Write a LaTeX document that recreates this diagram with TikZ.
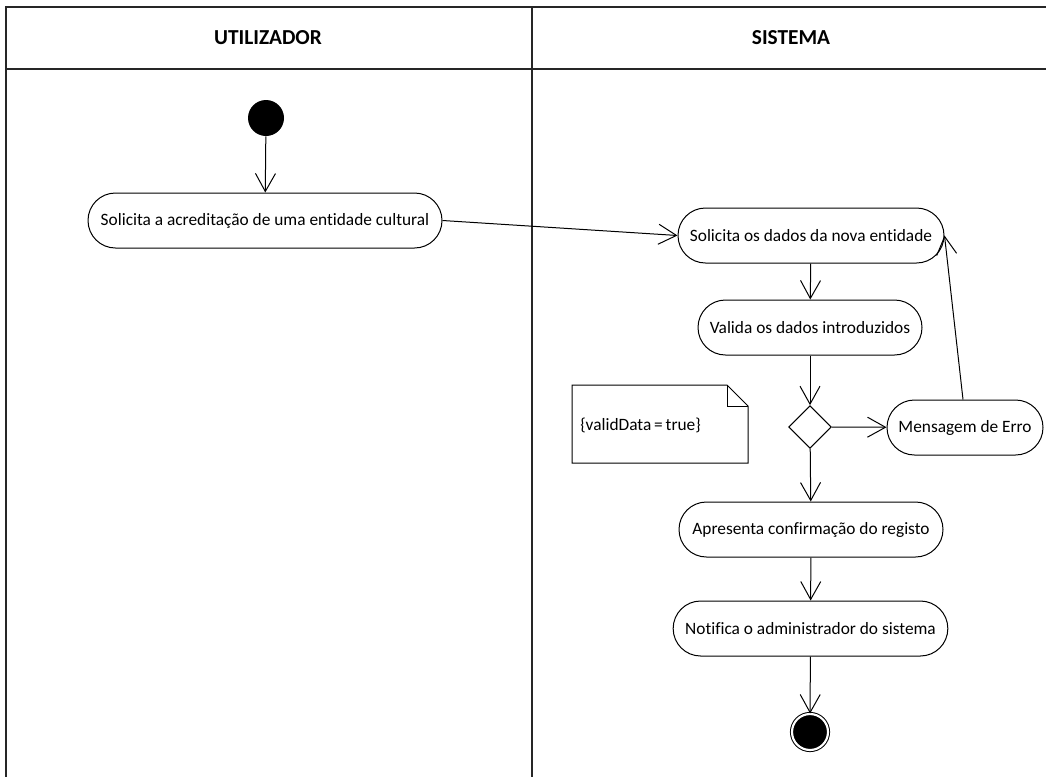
\documentclass[tikz,border=0pt]{standalone}
\usepackage{fontspec}
\setmainfont{Carlito}[Ligatures=NoCommon]
\usetikzlibrary{arrows.meta,shapes.geometric}
\begin{document}
\begin{tikzpicture}[x=0.75pt,y=-0.75pt,
  font=\fontsize{13pt}{15pt}\selectfont,
  lane/.style={line width=1.5pt,draw=black!85},
  action/.style={draw,line width=0.75pt,rounded corners=20.6pt,minimum height=41.25pt,inner sep=0pt},
  flow/.style={line width=0.75pt,-{Straight Barb[length=13.5pt,width=15pt,line width=0.75pt]}},
  decision/.style={draw,line width=0.75pt,diamond,minimum width=32pt,minimum height=32pt,inner sep=0pt},
  startnode/.style={circle,fill=black,minimum size=27pt,inner sep=0pt},
  endnode/.style={circle,draw,line width=0.75pt,fill=black,double=white,double distance=1.6pt,minimum size=27pt,inner sep=0pt},
  header/.style={font=\fontsize{16pt}{18pt}\selectfont\bfseries}]
\useasboundingbox (0,0) rectangle (1046,776);
\begin{scope}
\clip (0,0) rectangle (1046,776);
% swimlane frame
\draw[lane] (6,800) -- (6,7) -- (1060,7);
\draw[lane] (6,69) -- (1060,69);
\draw[lane] (532,7) -- (532,800);
\end{scope}
\node[header] (hU) at (268,38) {UTILIZADOR};
\node[header] (hS) at (791,38) {SISTEMA};

% actions
\node[startnode] (start) at (266,118) {};
\node[action,minimum width=265.5pt] (a1) at (265,220.5) {Solicita a acreditação de uma entidade cultural};
\node[action,minimum width=199.5pt] (a2) at (811,235.5) {Solicita os dados da nova entidade};
\node[action,minimum width=168pt] (a3) at (810,327.5) {Valida os dados introduzidos};
\node[decision] (d1) at (810,427) {};
\node[action,minimum width=117pt] (err) at (965,427.5) {Mensagem de Erro};
\node[action,minimum width=198pt] (a4) at (811,529.5) {Apresenta confirmação do registo};
\node[action,minimum width=206pt] (a5) at (810.5,628.5) {Notifica o administrador do sistema};
\node[endnode] (end) at (810,732) {};

% guard note
\coordinate (nA) at (572,385);
\coordinate (nB) at (727,385);
\coordinate (nC) at (748,406);
\coordinate (nD) at (748,463);
\coordinate (nE) at (572,463);
\coordinate (nF) at (727,406);
\draw[line width=0.75pt] (nA) -- (nB) -- (nC) -- (nD) -- (nE) -- cycle;
\draw[line width=0.75pt] (nB) -- (nF) -- (nC);
\node[anchor=west,inner sep=0pt] (guard) at (580,425) {\{validData\,=\,true\}};

% control flow
\draw[flow] (start) -- (a1);
\draw[flow] (a1.east) -- (a2.west);
\draw[flow] (a2) -- (a3);
\draw[flow] (a3) -- (d1);
\draw[flow] (d1) -- (err);
\draw[flow] (err.north) ++(-2,0) coordinate (errtop) (errtop) -- (a2.east);
\draw[flow] (d1) -- (a4);
\draw[flow] (a4) -- (a5);
\draw[flow] (a5) -- (end);
\end{tikzpicture}
\end{document}
